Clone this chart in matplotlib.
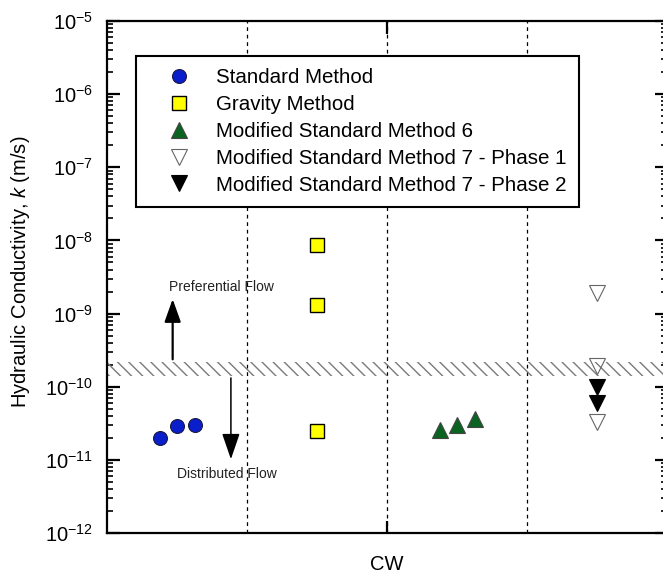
import matplotlib
matplotlib.use("Agg")
import matplotlib.pyplot as plt
from matplotlib.ticker import FixedLocator, LogLocator, NullFormatter

plt.rcParams['font.family'] = ['Liberation Sans', 'DejaVu Sans']
plt.rcParams['mathtext.fontset'] = 'custom'
plt.rcParams['mathtext.rm'] = 'Liberation Sans'
plt.rcParams['mathtext.it'] = 'Liberation Sans:italic'
plt.rcParams['axes.unicode_minus'] = False
plt.rcParams['hatch.linewidth'] = 1.0

# data (x in category units, CW spans 0..4)
std_x = [0.375, 0.5, 0.625]
std_k = [2.0e-11, 2.9e-11, 3.0e-11]

grav_x = [1.5, 1.5, 1.5]
grav_k = [8.6e-9, 1.3e-9, 2.5e-11]

msm6_x = [2.375, 2.5, 2.625]
msm6_k = [2.6e-11, 3.0e-11, 3.6e-11]

msm7p1_x = [3.5, 3.5, 3.5]
msm7p1_k = [1.9e-9, 1.9e-10, 3.3e-11]

msm7p2_x = [3.5, 3.5]
msm7p2_k = [1.0e-10, 6.0e-11]

# threshold band between preferential and distributed flow
band_lo = 1.4e-10
band_hi = 2.2e-10

decades = [1e-12, 1e-11, 1e-10, 1e-9, 1e-8, 1e-7, 1e-6, 1e-5]

labels = ['Standard Method', 'Gravity Method', 'Modified Standard Method 6',
          'Modified Standard Method 7 - Phase 1', 'Modified Standard Method 7 - Phase 2']

fig = plt.figure(figsize=(6.63, 5.76), dpi=100)
ax = fig.add_axes([107/663, 43/576, 560/663, 512/576])

ax.set_yscale('log')
ax.set_ylim(1e-12, 1e-5)
ax.set_xlim(0, 4)

# dashed separators
for xv in [1, 2, 3]:
    ax.axvline(xv, color='black', lw=0.9, ls=(0, (3, 3)), zorder=1)

# hatched band
ax.axhspan(band_lo, band_hi, facecolor='none', edgecolor='#7a7a7a', lw=0,
           hatch='\\\\\\', zorder=2)

# arrows
ax.annotate('', xy=(0.469, 1.58e-9), xytext=(0.469, 2.37e-10),
            arrowprops=dict(arrowstyle='-|>,head_length=1.4,head_width=0.5',
                            color='black', lw=1.6, shrinkA=0, shrinkB=0), zorder=3)
ax.annotate('', xy=(0.885, 1.02e-11), xytext=(0.885, 1.32e-10),
            arrowprops=dict(arrowstyle='-|>,head_length=1.6,head_width=0.55',
                            color='black', lw=1.1, shrinkA=0, shrinkB=0), zorder=3)
ax.text(0.445, 2.3e-9, 'Preferential Flow', fontsize=10, color='#222222',
        ha='left', va='center', zorder=4)
ax.text(0.5, 6.4e-12, 'Distributed Flow', fontsize=10, color='#222222',
        ha='left', va='center', zorder=4)

# data markers
h1, = ax.plot(std_x, std_k, 'o', ls='none', ms=10, mfc='#0a1ecc', mec='#1a1a40',
              mew=0.8, zorder=5)
h2, = ax.plot(grav_x, grav_k, 's', ls='none', ms=10, mfc='#ffff00', mec='black',
              mew=1.0, zorder=5)
h3, = ax.plot(msm6_x, msm6_k, '^', ls='none', ms=12, mfc='#0b6321', mec='#444444',
              mew=0.8, zorder=5)
h4, = ax.plot(msm7p1_x, msm7p1_k, 'v', ls='none', ms=12, mfc='none', mec='#666666',
              mew=0.8, zorder=5)
h5, = ax.plot(msm7p2_x, msm7p2_k, 'v', ls='none', ms=12, mfc='black', mec='black',
              mew=0.8, zorder=5)

# axes styling
for s in ax.spines.values():
    s.set_linewidth(1.6)
ax.yaxis.set_major_locator(FixedLocator(decades))
ax.yaxis.set_minor_locator(LogLocator(base=10, subs=range(2, 10), numticks=20))
ax.yaxis.set_minor_formatter(NullFormatter())
ax.tick_params(axis='y', which='major', direction='in', length=9, width=1.6,
               left=True, right=True, labelsize=14.5, pad=10)
ax.tick_params(axis='y', which='minor', direction='in', length=4, width=1.2,
               left=True, right=True)
ax.set_xticks([2])
ax.set_xticklabels(['CW'])
ax.tick_params(axis='x', which='major', direction='in', length=9, width=1.6,
               top=True, bottom=True, labelsize=14.5, pad=16)
ax.tick_params(axis='x', which='minor', bottom=False, top=False)

ax.set_ylabel('Hydraulic Conductivity, $k$ (m/s)', fontsize=14.5)
ax.yaxis.set_label_coords(-0.134, 0.51)

leg = ax.legend([h1, h2, h3, h4, h5], labels, loc='upper left',
                bbox_to_anchor=(136/663, 1 - 56/576), bbox_transform=fig.transFigure,
                borderaxespad=0, fontsize=14.8, frameon=True, fancybox=False,
                framealpha=1, edgecolor='black', borderpad=0.6, handlelength=3.0,
                handletextpad=0.3, labelspacing=0.38, numpoints=1)
leg.get_frame().set_linewidth(1.5)
leg.set_zorder(6)

fig.savefig('out.png', dpi=100)
